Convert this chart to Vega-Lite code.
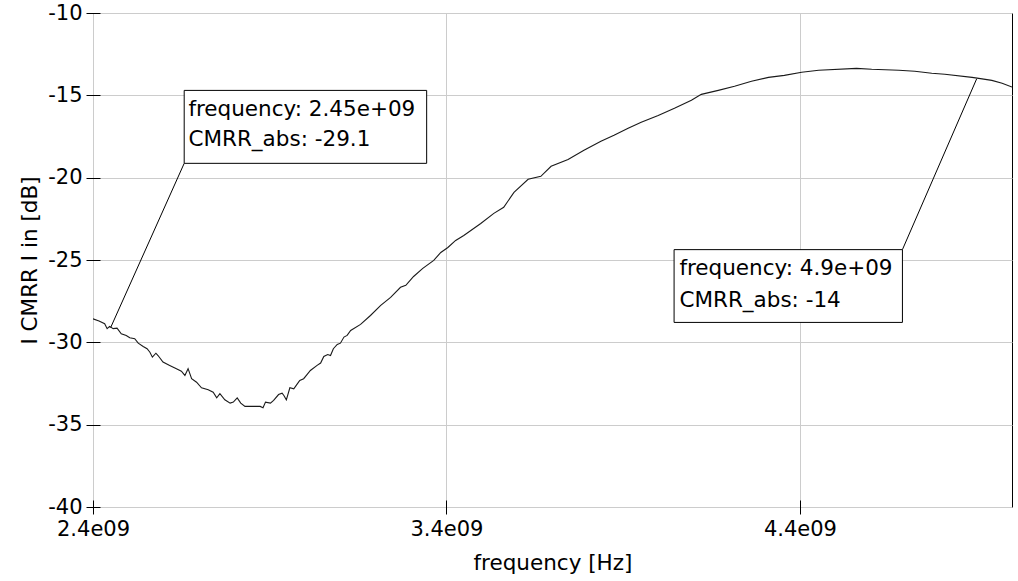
{
  "$schema": "https://vega.github.io/schema/vega-lite/v6.json",
  "width": 919,
  "height": 494,
  "autosize": {"type": "none"},
  "padding": {"left": 93, "top": 13, "right": 6, "bottom": 74},
  "background": "white",
  "config": {
    "font": "DejaVu Sans",
    "view": {"stroke": "black", "strokeWidth": 1}
  },
  "layer": [
    {
      "data": {"values": [
        {"frequency": 2.400e9, "CMRR": -28.57},
        {"frequency": 2.417e9, "CMRR": -28.71},
        {"frequency": 2.433e9, "CMRR": -28.87},
        {"frequency": 2.440e9, "CMRR": -29.17},
        {"frequency": 2.447e9, "CMRR": -29.03},
        {"frequency": 2.457e9, "CMRR": -29.17},
        {"frequency": 2.468e9, "CMRR": -29.14},
        {"frequency": 2.480e9, "CMRR": -29.48},
        {"frequency": 2.494e9, "CMRR": -29.58},
        {"frequency": 2.504e9, "CMRR": -29.72},
        {"frequency": 2.518e9, "CMRR": -29.78},
        {"frequency": 2.528e9, "CMRR": -30.05},
        {"frequency": 2.542e9, "CMRR": -30.25},
        {"frequency": 2.553e9, "CMRR": -30.39},
        {"frequency": 2.561e9, "CMRR": -30.60},
        {"frequency": 2.568e9, "CMRR": -30.90},
        {"frequency": 2.578e9, "CMRR": -30.66},
        {"frequency": 2.584e9, "CMRR": -30.80},
        {"frequency": 2.598e9, "CMRR": -31.20},
        {"frequency": 2.617e9, "CMRR": -31.40},
        {"frequency": 2.636e9, "CMRR": -31.60},
        {"frequency": 2.650e9, "CMRR": -31.75},
        {"frequency": 2.660e9, "CMRR": -32.01},
        {"frequency": 2.669e9, "CMRR": -31.60},
        {"frequency": 2.679e9, "CMRR": -32.21},
        {"frequency": 2.693e9, "CMRR": -32.42},
        {"frequency": 2.707e9, "CMRR": -32.76},
        {"frequency": 2.726e9, "CMRR": -32.88},
        {"frequency": 2.740e9, "CMRR": -33.03},
        {"frequency": 2.750e9, "CMRR": -33.37},
        {"frequency": 2.759e9, "CMRR": -33.12},
        {"frequency": 2.773e9, "CMRR": -33.49},
        {"frequency": 2.788e9, "CMRR": -33.69},
        {"frequency": 2.797e9, "CMRR": -33.63},
        {"frequency": 2.808e9, "CMRR": -33.37},
        {"frequency": 2.818e9, "CMRR": -33.69},
        {"frequency": 2.830e9, "CMRR": -33.89},
        {"frequency": 2.845e9, "CMRR": -33.89},
        {"frequency": 2.873e9, "CMRR": -33.89},
        {"frequency": 2.881e9, "CMRR": -33.97},
        {"frequency": 2.888e9, "CMRR": -33.63},
        {"frequency": 2.902e9, "CMRR": -33.69},
        {"frequency": 2.911e9, "CMRR": -33.53},
        {"frequency": 2.925e9, "CMRR": -33.17},
        {"frequency": 2.935e9, "CMRR": -33.09},
        {"frequency": 2.940e9, "CMRR": -33.23},
        {"frequency": 2.947e9, "CMRR": -33.49},
        {"frequency": 2.957e9, "CMRR": -32.76},
        {"frequency": 2.968e9, "CMRR": -32.82},
        {"frequency": 2.976e9, "CMRR": -32.58},
        {"frequency": 2.985e9, "CMRR": -32.31},
        {"frequency": 2.996e9, "CMRR": -32.21},
        {"frequency": 3.006e9, "CMRR": -31.95},
        {"frequency": 3.015e9, "CMRR": -31.71},
        {"frequency": 3.034e9, "CMRR": -31.40},
        {"frequency": 3.044e9, "CMRR": -31.26},
        {"frequency": 3.053e9, "CMRR": -30.86},
        {"frequency": 3.064e9, "CMRR": -30.74},
        {"frequency": 3.072e9, "CMRR": -30.80},
        {"frequency": 3.080e9, "CMRR": -30.39},
        {"frequency": 3.091e9, "CMRR": -30.13},
        {"frequency": 3.100e9, "CMRR": -30.05},
        {"frequency": 3.110e9, "CMRR": -29.68},
        {"frequency": 3.119e9, "CMRR": -29.58},
        {"frequency": 3.129e9, "CMRR": -29.28},
        {"frequency": 3.157e9, "CMRR": -28.91},
        {"frequency": 3.185e9, "CMRR": -28.37},
        {"frequency": 3.214e9, "CMRR": -27.76},
        {"frequency": 3.242e9, "CMRR": -27.27},
        {"frequency": 3.270e9, "CMRR": -26.66},
        {"frequency": 3.285e9, "CMRR": -26.54},
        {"frequency": 3.307e9, "CMRR": -26.00},
        {"frequency": 3.333e9, "CMRR": -25.51},
        {"frequency": 3.364e9, "CMRR": -25.02},
        {"frequency": 3.384e9, "CMRR": -24.54},
        {"frequency": 3.404e9, "CMRR": -24.24},
        {"frequency": 3.426e9, "CMRR": -23.81},
        {"frequency": 3.449e9, "CMRR": -23.51},
        {"frequency": 3.469e9, "CMRR": -23.21},
        {"frequency": 3.497e9, "CMRR": -22.78},
        {"frequency": 3.534e9, "CMRR": -22.17},
        {"frequency": 3.562e9, "CMRR": -21.80},
        {"frequency": 3.591e9, "CMRR": -20.89},
        {"frequency": 3.631e9, "CMRR": -20.10},
        {"frequency": 3.667e9, "CMRR": -19.92},
        {"frequency": 3.696e9, "CMRR": -19.31},
        {"frequency": 3.744e9, "CMRR": -18.89},
        {"frequency": 3.789e9, "CMRR": -18.34},
        {"frequency": 3.837e9, "CMRR": -17.79},
        {"frequency": 3.874e9, "CMRR": -17.43},
        {"frequency": 3.914e9, "CMRR": -17.00},
        {"frequency": 3.951e9, "CMRR": -16.64},
        {"frequency": 3.999e9, "CMRR": -16.22},
        {"frequency": 4.045e9, "CMRR": -15.79},
        {"frequency": 4.093e9, "CMRR": -15.30},
        {"frequency": 4.121e9, "CMRR": -14.94},
        {"frequency": 4.169e9, "CMRR": -14.70},
        {"frequency": 4.215e9, "CMRR": -14.45},
        {"frequency": 4.263e9, "CMRR": -14.15},
        {"frequency": 4.311e9, "CMRR": -13.91},
        {"frequency": 4.356e9, "CMRR": -13.79},
        {"frequency": 4.405e9, "CMRR": -13.60},
        {"frequency": 4.453e9, "CMRR": -13.48},
        {"frequency": 4.560e9, "CMRR": -13.36},
        {"frequency": 4.603e9, "CMRR": -13.42},
        {"frequency": 4.680e9, "CMRR": -13.48},
        {"frequency": 4.725e9, "CMRR": -13.54},
        {"frequency": 4.773e9, "CMRR": -13.66},
        {"frequency": 4.810e9, "CMRR": -13.72},
        {"frequency": 4.887e9, "CMRR": -13.91},
        {"frequency": 4.906e9, "CMRR": -13.97},
        {"frequency": 4.943e9, "CMRR": -14.09},
        {"frequency": 4.972e9, "CMRR": -14.27},
        {"frequency": 5.000e9, "CMRR": -14.50}
      ]},
      "mark": {"type": "line", "color": "#1a1a1a", "strokeWidth": 1.1, "clip": true},
      "encoding": {
        "x": {
          "field": "frequency", "type": "quantitative",
          "scale": {"domain": [2.4e9, 5.0e9], "nice": false, "zero": false},
          "axis": {
            "title": "frequency [Hz]",
            "values": [2.4e9, 3.4e9, 4.4e9],
            "labelExpr": "format(datum.value/1e9,'.1f')+'e09'",
            "grid": true, "gridColor": "#cccccc", "gridWidth": 1,
            "domain": false, "offset": -7, "tickSize": 14, "tickColor": "black", "tickWidth": 1,
            "labelFontSize": 21, "labelColor": "black", "labelPadding": 4, "labelFlush": false,
            "titleFontSize": 21.5, "titleFontWeight": "normal", "titleColor": "black", "titlePadding": 13
          }
        },
        "y": {
          "field": "CMRR", "type": "quantitative",
          "scale": {"domain": [-40, -10], "nice": false, "zero": false},
          "axis": {
            "title": "I CMRR I in [dB]",
            "values": [-40, -35, -30, -25, -20, -15, -10],
            "labelExpr": "'' + datum.value",
            "grid": true, "gridColor": "#cccccc", "gridWidth": 1,
            "domain": false, "offset": -7, "tickSize": 14, "tickColor": "black", "tickWidth": 1,
            "labelFontSize": 21, "labelColor": "black", "labelPadding": 4, "labelFlush": false,
            "titleFontSize": 21.5, "titleFontWeight": "normal", "titleColor": "black", "titlePadding": 6
          }
        }
      }
    },
    {
      "data": {"values": [
        {"frequency": 2.658e9, "CMRR": -19.13, "frequency2": 2.45e9, "CMRR2": -29.1},
        {"frequency": 4.690e9, "CMRR": -24.37, "frequency2": 4.9e9, "CMRR2": -14.0}
      ]},
      "mark": {"type": "rule", "color": "black", "strokeWidth": 1},
      "encoding": {
        "x": {"field": "frequency", "type": "quantitative"},
        "y": {"field": "CMRR", "type": "quantitative"},
        "x2": {"field": "frequency2"},
        "y2": {"field": "CMRR2"}
      }
    },
    {
      "data": {"values": [
        {"frequency": 2.658e9, "frequency2": 3.344e9, "CMRR": -14.70, "CMRR2": -19.13},
        {"frequency": 4.044e9, "frequency2": 4.690e9, "CMRR": -24.37, "CMRR2": -28.79}
      ]},
      "mark": {"type": "rect", "fill": "white", "stroke": "black", "strokeWidth": 1},
      "encoding": {
        "x": {"field": "frequency", "type": "quantitative"},
        "x2": {"field": "frequency2"},
        "y": {"field": "CMRR", "type": "quantitative"},
        "y2": {"field": "CMRR2"}
      }
    },
    {
      "data": {"values": [
        {"frequency": 2.670e9, "CMRR": -16.28, "label": "frequency: 2.45e+09"},
        {"frequency": 2.670e9, "CMRR": -18.10, "label": "CMRR_abs: -29.1"},
        {"frequency": 4.059e9, "CMRR": -25.94, "label": "frequency: 4.9e+09"},
        {"frequency": 4.059e9, "CMRR": -27.86, "label": "CMRR_abs: -14"}
      ]},
      "mark": {"type": "text", "align": "left", "baseline": "alphabetic", "fontSize": 21.5, "color": "black"},
      "encoding": {
        "x": {"field": "frequency", "type": "quantitative"},
        "y": {"field": "CMRR", "type": "quantitative"},
        "text": {"field": "label"}
      }
    }
  ]
}
